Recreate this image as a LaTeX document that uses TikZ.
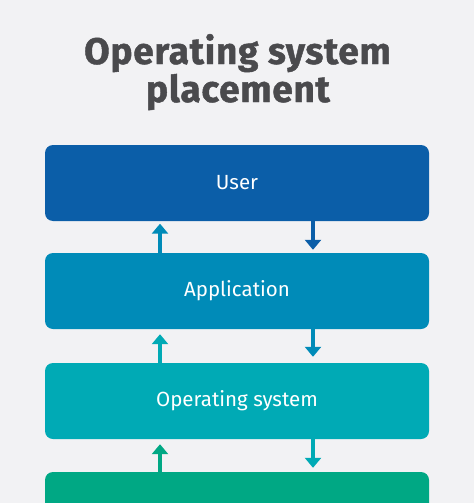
\documentclass[tikz,border=0pt]{standalone}
\usepackage{fontspec}
\setmainfont{Fira Sans}
\newfontfamily\titlefont{Fira Sans}[UprightFont={* Bold}, FakeBold=1.2, LetterSpace=2]
\usetikzlibrary{arrows.meta}
\definecolor{bg}{HTML}{F2F2F4}
\definecolor{cuser}{HTML}{0B5EA8}
\definecolor{capp}{HTML}{008BB8}
\definecolor{cos}{HTML}{00AAB5}
\definecolor{chw}{HTML}{00A884}
\definecolor{ctitle}{HTML}{4A4A4D}
\tikzset{
  layer/.style={rounded corners=8pt, minimum width=384pt, minimum height=76pt,
    inner sep=0pt, text=white, font=\fontsize{20.5}{24}\selectfont},
  flow/.style={line width=3.5pt, -{Triangle[width=16pt,length=10pt]}},
  ttl/.style={anchor=base, text=ctitle, font=\fontsize{37}{40}\titlefont, inner sep=0pt}
}
\begin{document}
\begin{tikzpicture}[x=1pt,y=-1pt]
\useasboundingbox (0,0) rectangle (474,503);
\fill[bg] (0,0) rectangle (474,503);
\begin{scope}
\clip (0,0) rectangle (474,503);
\node[ttl] (t1) at (237.5,64) {Operating system};
\node[ttl] (t2) at (238,102) {placement};
\node[layer, fill=cuser] (user) at (237,183) {User};
\node[layer, fill=capp] (app) at (237,291) {Application};
\node[layer, fill=cos] (os) at (237,401) {Operating system};
\node[layer, fill=chw] (hw) at (237,510) {};
\draw[flow, capp] ([xshift=-77pt]app.north) -- ([xshift=-77pt,yshift=-2.5pt]user.south);
\draw[flow, cuser] ([xshift=76pt]user.south) -- ([xshift=76pt,yshift=3pt]app.north);
\draw[flow, cos] ([xshift=-77pt]os.north) -- ([xshift=-77pt,yshift=-5pt]app.south);
\draw[flow, capp] ([xshift=76pt]app.south) -- ([xshift=76pt,yshift=6pt]os.north);
\draw[flow, chw] ([xshift=-77pt]hw.north) -- ([xshift=-77pt,yshift=-5pt]os.south);
\draw[flow, cos] ([xshift=76pt]os.south) -- ([xshift=76pt,yshift=4pt]hw.north);
\end{scope}
\end{tikzpicture}
\end{document}
